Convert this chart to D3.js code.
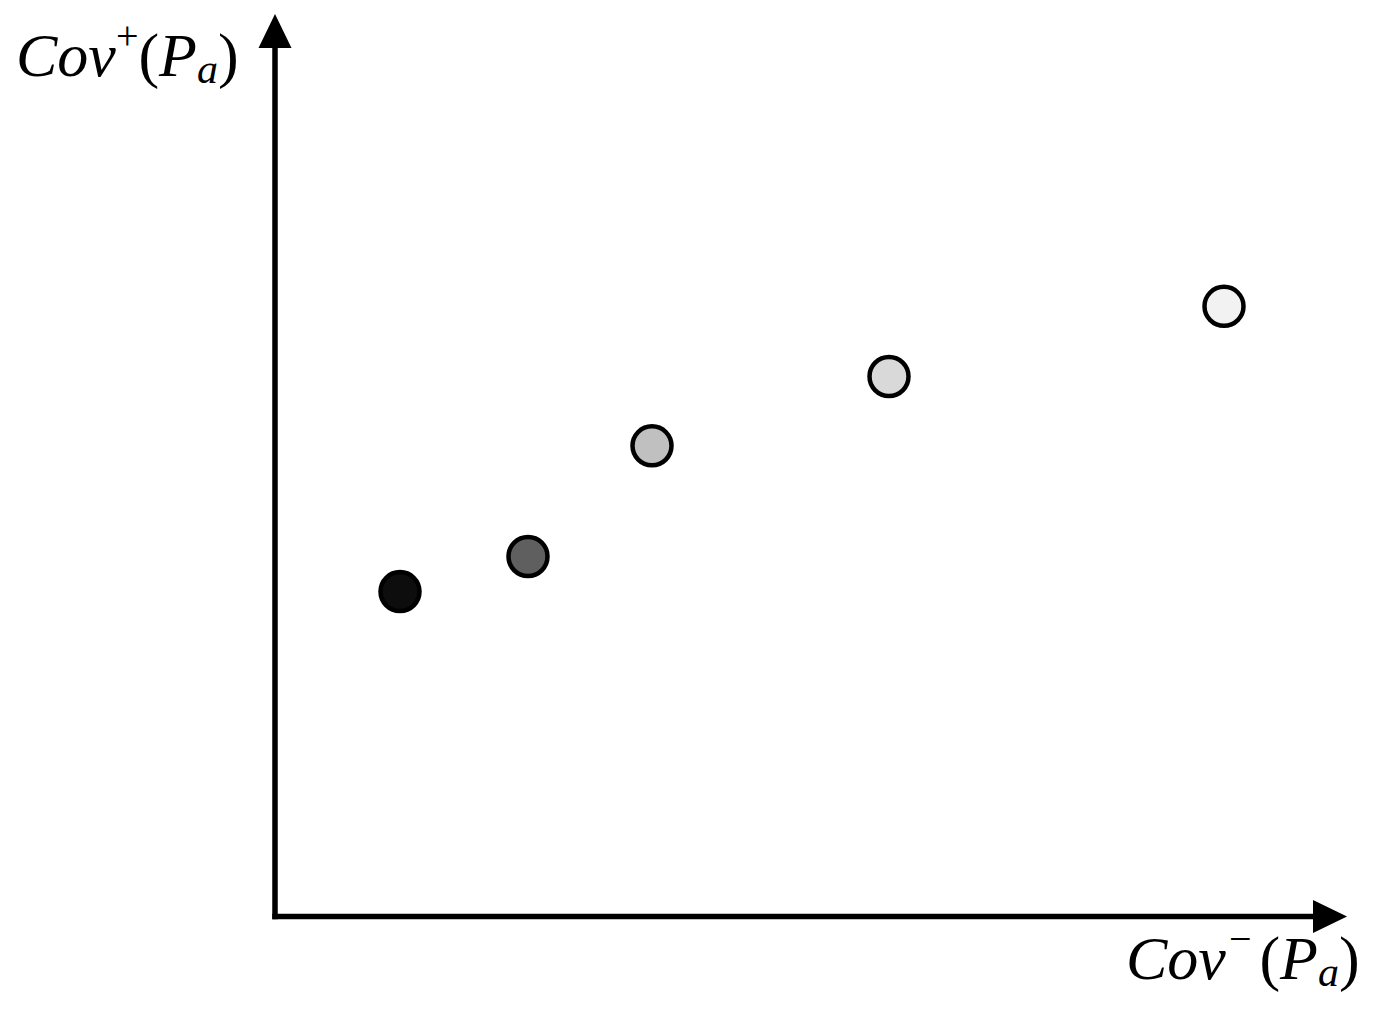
<!DOCTYPE html>
<html>
<head>
<meta charset="utf-8">
<script src="https://cdn.jsdelivr.net/npm/d3@7"></script>
<style>
  body { margin: 0; background: #fff; }
  svg { display: block; }
</style>
</head>
<body>
<div id="chart"></div>
<script>
// values (arbitrary units, axes have no ticks)
var covMinus = [12.5, 25.3, 37.7, 61.4, 94.9];
var covPlus = [36.1, 40.0, 52.3, 60.0, 67.8];
var fills = ["#0d0d0d", "#5f5f5f", "#c0c0c0", "#d9d9d9", "#f2f2f2"];

var width = 1375, height = 1023;

var svg = d3.select("#chart")
  .append("svg")
  .attr("width", width)
  .attr("height", height);

// set the scales
var x = d3.scaleLinear().domain([0, 100]).range([275, 1275]);
var y = d3.scaleLinear().domain([0, 100]).range([916.5, 16.5]);

var x0 = x(0), y0 = y(0);
var xEnd = 1347, yEnd = 14; // arrow tips
var head = 34, halfHead = 16.5;

// axis lines
svg.append("line")
  .attr("x1", x0).attr("y1", y0 + 2.75)
  .attr("x2", x0).attr("y2", yEnd + head - 1)
  .attr("stroke", "#000")
  .attr("stroke-width", 5.5);

svg.append("line")
  .attr("x1", x0 - 2.75).attr("y1", y0)
  .attr("x2", xEnd - head + 1).attr("y2", y0)
  .attr("stroke", "#000")
  .attr("stroke-width", 5.5);

// arrow heads
svg.append("path")
  .attr("d", d3.line()([[x0, yEnd], [x0 - halfHead, yEnd + head], [x0 + halfHead, yEnd + head]]) + "Z")
  .attr("fill", "#000");

svg.append("path")
  .attr("d", d3.line()([[xEnd, y0], [xEnd - head, y0 - halfHead], [xEnd - head, y0 + halfHead]]) + "Z")
  .attr("fill", "#000");

// points
svg.append("g")
  .selectAll("circle")
  .data(covMinus)
  .enter()
  .append("circle")
  .attr("cx", function (d) { return x(d); })
  .attr("cy", function (d, i) { return y(covPlus[i]); })
  .attr("r", 19.5)
  .attr("fill", function (d, i) { return fills[i]; })
  .attr("stroke", "#000")
  .attr("stroke-width", 4.5);

// axis labels
function mathLabel(tx, ty, sign, signGap, parenGap) {
  var t = svg.append("text")
    .attr("x", tx)
    .attr("y", ty)
    .attr("font-family", "'Liberation Serif', 'Times New Roman', serif")
    .attr("font-size", 62)
    .attr("fill", "#000");
  t.append("tspan").attr("font-style", "italic").text("Cov");
  t.append("tspan").attr("font-size", 40).attr("dy", -27).attr("dx", signGap).text(sign);
  t.append("tspan").attr("dy", 27).attr("dx", parenGap).text("(");
  t.append("tspan").attr("font-style", "italic").text("P");
  t.append("tspan").attr("font-style", "italic").attr("font-size", 42).attr("dy", 7).text("a");
  t.append("tspan").attr("dy", -7).text(")");
  return t;
}

mathLabel(16, 76, "+", 0, 0);
mathLabel(1126, 979, "\u2212", 3, 8);
</script>
</body>
</html>
